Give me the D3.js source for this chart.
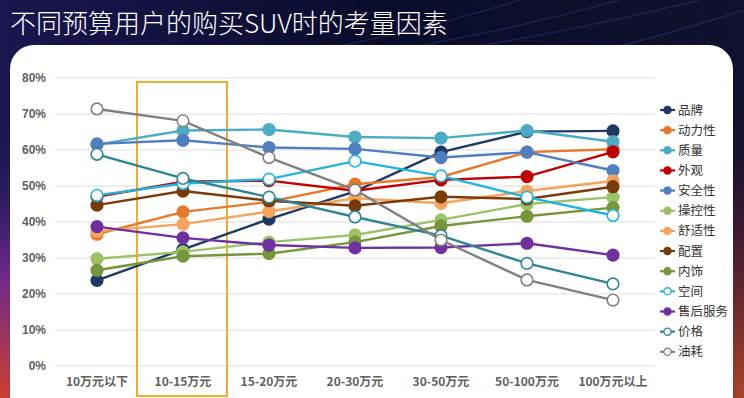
<!DOCTYPE html>
<html>
<head>
<meta charset="utf-8">
<script src="https://cdn.jsdelivr.net/npm/d3@7"></script>
<style>
  html, body { margin: 0; padding: 0; background: #0b0d2e; }
  svg { display: block; font-family: "Noto Sans CJK SC", "Noto Sans", sans-serif; }
</style>
</head>
<body>
<div id="app"></div>
<script>
// data
var categories = ['10万元以下','10-15万元','15-20万元','20-30万元','30-50万元','50-100万元','100万元以上'];
var seriesNames = ['品牌','动力性','质量','外观','安全性','操控性','舒适性','配置','内饰','空间','售后服务','价格','油耗'];
var seriesColors = ['#1f3864','#e8782a','#4bacc6','#c00000','#4f7fc0','#9bc265','#f6a35c','#7a3b0a','#77963c','#21b4e0','#7030a0','#2f8596','#808080'];
var hollow = [false,false,false,false,false,false,false,false,false,true,false,true,true];

var pinpai   = [23.8, 32.4, 40.8, 48.5, 59.4, 65.1, 65.3];
var dongli   = [36.6, 42.8, 45.6, 50.5, 52.5, 59.4, 60.2];
var zhiliang = [61.5, 65.4, 65.7, 63.6, 63.3, 65.4, 62.3];
var waiguan  = [47.0, 51.2, 51.5, 48.7, 51.7, 52.6, 59.5];
var anquan   = [61.7, 62.7, 60.7, 60.3, 57.9, 59.4, 54.3];
var caokong  = [29.8, 31.7, 34.4, 36.4, 40.6, 45.0, 46.9];
var shushi   = [37.4, 39.4, 42.9, 46.6, 45.2, 48.6, 51.4];
var peizhi   = [44.7, 48.6, 45.9, 44.5, 47.0, 46.4, 49.8];
var neishi   = [26.6, 30.5, 31.2, 34.4, 38.9, 41.6, 44.0];
var kongjian = [47.4, 50.7, 51.9, 56.9, 52.8, 46.9, 41.8];
var shouhou  = [38.7, 35.6, 33.6, 32.8, 32.9, 34.1, 30.8];
var jiage    = [58.8, 52.1, 46.9, 41.4, 36.2, 28.5, 22.8];
var youhao   = [71.4, 68.1, 57.9, 48.9, 35.0, 23.9, 18.3];
var seriesValues = [pinpai, dongli, zhiliang, waiguan, anquan, caokong, shushi, peizhi, neishi, kongjian, shouhou, jiage, youhao];
var yTicks = [0,10,20,30,40,50,60,70,80];

var W = 744, H = 398;
var svg = d3.select('#app').append('svg').attr('width', W).attr('height', H);
var defs = svg.append('defs');

//background
var bg = defs.append('linearGradient').attr('id','bg').attr('x1',0).attr('y1',0).attr('x2',1).attr('y2',0);
bg.append('stop').attr('offset','0%').attr('stop-color','#1a1650');
bg.append('stop').attr('offset','50%').attr('stop-color','#0a0c2c');
bg.append('stop').attr('offset','100%').attr('stop-color','#10112e');
var glowL = defs.append('radialGradient').attr('id','glowL').attr('cx','0%').attr('cy','100%').attr('r','75%');
glowL.append('stop').attr('offset','0%').attr('stop-color','#d0402a');
glowL.append('stop').attr('offset','45%').attr('stop-color','#7a2c90').attr('stop-opacity',0.9);
glowL.append('stop').attr('offset','100%').attr('stop-color','#2a1c70').attr('stop-opacity',0);
var glowR = defs.append('radialGradient').attr('id','glowR').attr('cx','100%').attr('cy','100%').attr('r','80%');
glowR.append('stop').attr('offset','0%').attr('stop-color','#b0462a');
glowR.append('stop').attr('offset','50%').attr('stop-color','#5a2030').attr('stop-opacity',0.7);
glowR.append('stop').attr('offset','100%').attr('stop-color','#10112e').attr('stop-opacity',0);

svg.append('rect').attr('width',W).attr('height',H).attr('fill','url(#bg)');
svg.append('rect').attr('x',0).attr('y',40).attr('width',160).attr('height',H-40).attr('fill','url(#glowL)');
svg.append('rect').attr('x',600).attr('y',0).attr('width',144).attr('height',H).attr('fill','url(#glowR)');

// faint streaks
var streaks = svg.append('g').attr('stroke','#4a4f9a').attr('stroke-opacity',0.35).attr('fill','none');
[[260,60,520,0],[330,60,620,0],[420,55,700,0],[560,60,744,10]].forEach(function(s){
  streaks.append('path').attr('d','M'+s[0]+','+s[1]+' Q'+((s[0]+s[2])/2)+','+(s[1]-20)+' '+s[2]+','+s[3]).attr('stroke-width',1.2);
});

svg.append('text')
  .attr('x',10).attr('y',33)
  .attr('fill','#ffffff')
  .attr('font-size',26).attr('font-weight',300)
  .text('不同预算用户的购买SUV时的考量因素');

//white panel
svg.append('rect')
  .attr('x',10).attr('y',45).attr('width',723).attr('height',380)
  .attr('rx',24).attr('ry',24)
  .attr('fill','#ffffff');

var x = d3.scaleBand().domain(categories).range([54,656]);
var y = d3.scaleLinear().domain([0,80]).range([366,78]);
var cx = function(i){ return x(categories[i]) + x.bandwidth()/2; };

var grid = svg.append('g');
grid.selectAll('line').data(yTicks).enter().append('line')
  .attr('x1',55).attr('x2',655)
  .attr('y1',function(d){return y(d)}).attr('y2',function(d){return y(d)})
  .attr('stroke','#dcdcdc').attr('stroke-width',1);

grid.selectAll('text').data(yTicks).enter().append('text')
  .attr('x',46).attr('y',function(d){return y(d)+4})
  .attr('text-anchor','end')
  .attr('font-size',12).attr('font-weight','bold')
  .attr('font-family','"Liberation Sans", Arial, sans-serif')
  .attr('fill','#5f5f5f')
  .text(function(d){return d+'%'});

svg.append('g').selectAll('text').data(categories).enter().append('text')
  .attr('x',function(d){return x(d)+x.bandwidth()/2}).attr('y',386)
  .attr('text-anchor','middle')
  .attr('font-size',12).attr('font-weight','bold')
  .attr('fill','#5f5f5f')
  .text(function(d){return d});

// highlight box around 10-15万元
svg.append('rect')
  .attr('x',x(categories[1])-3).attr('y',82)
  .attr('width',x.bandwidth()+4).attr('height',314)
  .attr('fill','none').attr('stroke','#f0ad2c').attr('stroke-width',2);

var line = d3.line().x(function(d,i){return cx(i)}).y(function(d){return y(d)});

var series = svg.append('g').selectAll('g').data(seriesValues).enter().append('g');
series.append('path')
  .attr('d',function(d){return line(d)})
  .attr('fill','none')
  .attr('stroke',function(d,i){return seriesColors[i]})
  .attr('stroke-width',2.4);
series.each(function(vals,si){
  d3.select(this).selectAll('circle').data(vals).enter().append('circle')
    .attr('cx',function(d,i){return cx(i)}).attr('cy',function(d){return y(d)})
    .attr('r',5.8)
    .attr('fill',hollow[si] ? '#ffffff' : seriesColors[si])
    .attr('stroke',seriesColors[si]).attr('stroke-width',1.6);
});

//legend
var legend = svg.append('g').selectAll('g').data(seriesNames).enter().append('g')
  .attr('transform',function(d,i){return 'translate(660,'+(110+i*20.15)+')'});
legend.append('line').attr('x1',0).attr('x2',15).attr('y1',0).attr('y2',0)
  .attr('stroke',function(d,i){return seriesColors[i]}).attr('stroke-width',2.2);
legend.append('circle').attr('cx',7.5).attr('cy',0).attr('r',3.6)
  .attr('fill',function(d,i){return hollow[i] ? '#ffffff' : seriesColors[i]})
  .attr('stroke',function(d,i){return seriesColors[i]}).attr('stroke-width',1.3);
legend.append('text').attr('x',18).attr('y',4.5)
  .attr('font-size',12.5).attr('fill','#333333')
  .text(function(d){return d});
</script>
</body>
</html>
